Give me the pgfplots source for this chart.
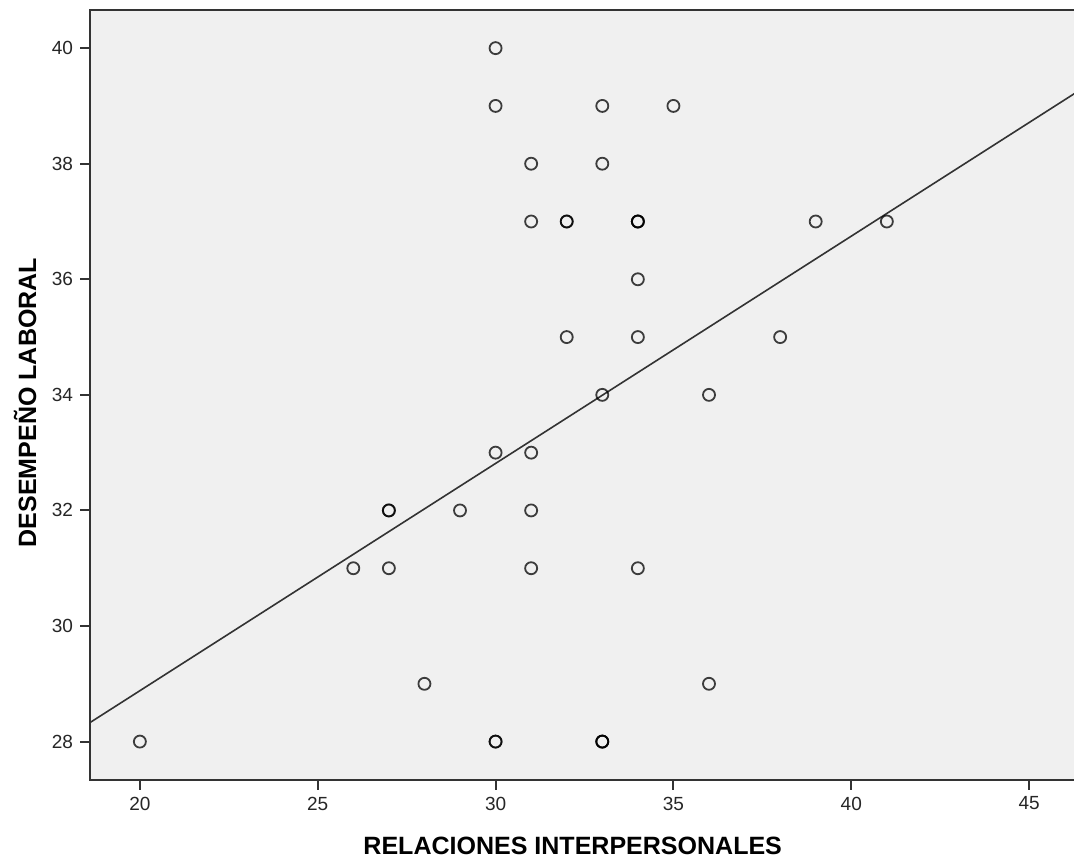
\documentclass[border=0pt]{standalone}
\usepackage{fontspec}
\setmainfont{Liberation Sans}
\usepackage{pgfplots}
\pgfplotsset{compat=1.18}
\definecolor{bg}{RGB}{240,240,240}
\definecolor{frame}{RGB}{51,51,51}
\begin{document}
\begin{tikzpicture}
\begin{axis}[
  width=492pt, height=384.5pt, scale only axis,
  xmin=18.6, xmax=46.29, ymin=27.34, ymax=40.66,
  xtick={20,25,...,45}, ytick={28,30,...,40},
  tick align=outside, xtick pos=bottom, ytick pos=left,
  major tick length=5pt,
  every tick/.style={frame, line width=1pt},
  axis background/.style={fill=bg},
  axis line style={frame, line width=1pt},
  tick label style={font=\fontsize{9.5}{10}\selectfont, text=black!85},
  /pgf/number format/assume math mode=true,
  xlabel={RELACIONES INTERPERSONALES},
  ylabel={DESEMPEÑO LABORAL},
  label style={font=\fontsize{12.5}{14}\selectfont\bfseries},
  xlabel style={at={(axis description cs:0.49,-0.0858)}, anchor=center},
  ylabel style={at={(axis description cs:-0.066,0.49)}, anchor=center},
]
\addplot[only marks, mark=o, mark size=3pt,
  mark options={draw=black, draw opacity=0.75, line width=0.9pt}] coordinates {
  (30,40)
  (30,39) (33,39) (35,39)
  (31,38) (33,38)
  (31,37) (32,37) (32,37) (34,37) (34,37) (34,37) (39,37) (41,37)
  (34,36)
  (32,35) (34,35) (38,35)
  (33,34) (36,34)
  (30,33) (31,33)
  (27,32) (27,32) (29,32) (31,32)
  (26,31) (27,31) (31,31) (34,31)
  (28,29) (36,29)
  (20,28) (30,28) (30,28) (33,28) (33,28) (33,28)
};
\addplot[frame, line width=0.8pt] coordinates {(18.6,28.33) (46.29,39.22)};
\coordinate (sw) at (rel axis cs:0,0);
\coordinate (ne) at (rel axis cs:1,1);
\end{axis}
\pgfresetboundingbox
\path ([xshift=-45pt,yshift=-41pt]sw) rectangle ([xshift=-0.5pt,yshift=5pt]ne);
\end{tikzpicture}
\end{document}
